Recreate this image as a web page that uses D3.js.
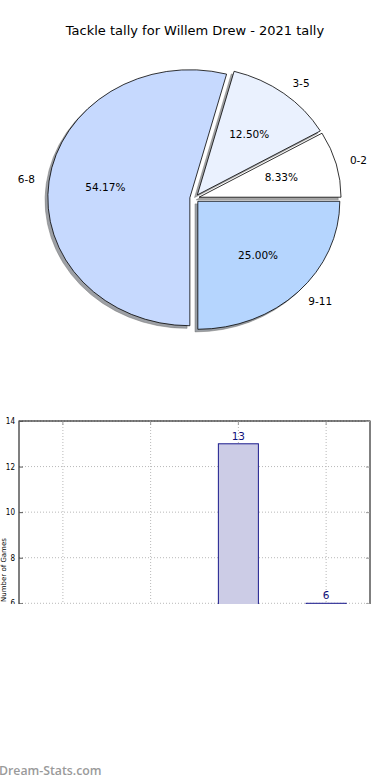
<html>
<meta charset="utf-8">
<head>
  <title>Tackle tally for Willem Drew - 2021 tally</title>
  <style>
    body, html { margin: 0; padding: 0; background: white; }
    svg text { font-family: 'DejaVu Sans', sans-serif; }
    .title { font-size: 13px; fill: #000; }
    .pie_label, .pct_label { font-size: 10.5px; fill: #000; }
    .y_axis text { font-size: 8px; font-stretch: condensed; fill: #000; }
    .y_axis path, .x_axis path { display: none; }
    .grid line { stroke: #b8b8b8; stroke-width: 1; stroke-dasharray: 1,2; }
    .bar_value { font-size: 10.5px; fill: #10107a; }
    .y_label { font-size: 7px; fill: #000; }
    .watermark { font-family: 'Open Sans', sans-serif; font-size: 12.3px; font-weight: 600; fill: #9a9a9a; }
  </style>
  <script src="https://d3js.org/d3.v7.min.js"></script>
</head>
<body>
<div id="chart"></div>
<script>
// data
var categories = ["0-2", "3-5", "6-8", "9-11"];
var tallies = [2, 3, 13, 6];
var wedge_colors = ["#ffffff", "#eaf1fe", "#c6d9fe", "#b5d5fe"];
var y_ticks = [0, 2, 4, 6, 8, 10, 12, 14];
var title_text = "Tackle tally for Willem Drew - 2021 tally";
var y_label_text = "Number of Games";

var width = 390, height = 780;

var svg = d3.select("#chart")
            .append("svg")
            .attr("width", width)
            .attr("height", height);

svg.append("text")
   .attr("class", "title")
   .attr("x", 195)
   .attr("y", 35)
   .attr("text-anchor", "middle")
   .text(title_text);

// ---- pie (elliptical, matplotlib style: starts at 3 o'clock, counter clockwise)
var pie_cx = 194.5, pie_cy = 198.3;
var rx = 142, ry = 128;
var explode = 0.033;
var total = d3.sum(tallies);
var color = d3.scaleOrdinal().domain(categories).range(wedge_colors);

var pie = d3.pie()
            .sort(null)
            .startAngle(Math.PI / 2)
            .endAngle(Math.PI / 2 - 2 * Math.PI);
var arcs = pie(tallies);
arcs.forEach(function(a, i) { a.cat = categories[i]; });

var arc = d3.arc().innerRadius(0).outerRadius(rx);

// d3 angle (clockwise from 12) -> math angle (ccw from 3 o'clock)
function mid_theta(a) {
  var m = (a.startAngle + a.endAngle) / 2;
  return Math.PI / 2 - m;
}
function offset(a, dist) {
  var t = mid_theta(a);
  return [pie_cx + explode * rx * Math.cos(t) + dist * rx * Math.cos(t),
          pie_cy - explode * ry * Math.sin(t) - dist * ry * Math.sin(t)];
}

var pie_g = svg.append("g").attr("class", "pie");

// shadows first
pie_g.selectAll(".shadow")
     .data(arcs)
     .enter()
     .append("path")
     .attr("class", "shadow")
     .attr("transform", function(d) {
       var o = offset(d, 0);
       return "translate(" + (o[0] - 2.8) + "," + (o[1] + 2.6) + ") scale(1," + (ry / rx) + ")";
     })
     .attr("d", arc)
     .attr("fill", function(d) {
       var c = d3.rgb(color(d.cat));
       return d3.rgb(c.r * 0.3, c.g * 0.3, c.b * 0.3);
     })
     .attr("fill-opacity", 0.5)
     .attr("stroke", "#777")
     .attr("stroke-opacity", 0.5)
     .attr("vector-effect", "non-scaling-stroke");

pie_g.selectAll(".wedge")
     .data(arcs)
     .enter()
     .append("path")
     .attr("class", "wedge")
     .attr("transform", function(d) {
       var o = offset(d, 0);
       return "translate(" + o[0] + "," + o[1] + ") scale(1," + (ry / rx) + ")";
     })
     .attr("d", arc)
     .attr("fill", function(d) { return color(d.cat); })
     .attr("stroke", "#000")
     .attr("stroke-width", 0.8)
     .attr("stroke-linejoin", "round")
     .attr("vector-effect", "non-scaling-stroke");

pie_g.selectAll(".pie_label")
     .data(arcs)
     .enter()
     .append("text")
     .attr("class", "pie_label")
     .attr("x", function(d) { return offset(d, 1.1)[0]; })
     .attr("y", function(d) { return offset(d, 1.1)[1]; })
     .attr("dy", "0.35em")
     .attr("text-anchor", function(d) { return Math.cos(mid_theta(d)) > 0 ? "start" : "end"; })
     .text(function(d) { return d.cat; });

pie_g.selectAll(".pct_label")
     .data(arcs)
     .enter()
     .append("text")
     .attr("class", "pct_label")
     .attr("x", function(d) { return offset(d, 0.6)[0]; })
     .attr("y", function(d) { return offset(d, 0.6)[1]; })
     .attr("dy", "0.35em")
     .attr("text-anchor", "middle")
     .text(function(d) { return (d.value / total * 100).toFixed(2) + "%"; });

// ---- bar chart (cut off at the bottom like the original)
var bx0 = 19, bx1 = 370, by_top = 421, by_bottom = 740;

svg.append("clipPath")
   .attr("id", "bar_clip")
   .append("rect")
   .attr("x", -5).attr("y", 400)
   .attr("width", 400).attr("height", 204);

var bar_g = svg.append("g").attr("clip-path", "url(#bar_clip)");

var x = d3.scaleBand().domain(categories).range([bx0, bx1]);
var y = d3.scaleLinear().domain([0, 14]).range([by_bottom, by_top]);
var bar_w = x.bandwidth() * 0.456;

// grid
var grid = bar_g.append("g").attr("class", "grid");

grid.selectAll("line.h")
    .data(y_ticks)
    .enter()
    .append("line")
    .attr("class", "h")
    .attr("x1", bx0).attr("x2", bx1)
    .attr("y1", function(d) { return y(d); })
    .attr("y2", function(d) { return y(d); });

grid.selectAll("line.v")
    .data(categories)
    .enter()
    .append("line")
    .attr("class", "v")
    .attr("x1", function(d) { return x(d) + x.bandwidth() / 2; })
    .attr("x2", function(d) { return x(d) + x.bandwidth() / 2; })
    .attr("y1", by_top).attr("y2", by_bottom);

bar_g.selectAll(".bar")
     .data(tallies)
     .enter()
     .append("rect")
     .attr("class", "bar")
     .attr("x", function(d, i) { return x(categories[i]) + (x.bandwidth() - bar_w) / 2; })
     .attr("width", bar_w)
     .attr("y", function(d) { return y(d); })
     .attr("height", function(d) { return y(0) - y(d); })
     .attr("fill", "#cccce6")
     .attr("stroke", "#1a1a8c")
     .attr("stroke-width", 1);

bar_g.selectAll(".bar_value")
     .data(tallies)
     .enter()
     .append("text")
     .attr("class", "bar_value")
     .attr("x", function(d, i) { return x(categories[i]) + x.bandwidth() / 2; })
     .attr("y", function(d) { return y(d) - 4; })
     .attr("text-anchor", "middle")
     .text(function(d) { return d; });

// frame
bar_g.append("rect")
     .attr("x", bx0).attr("y", by_top)
     .attr("width", bx1 - bx0).attr("height", by_bottom - by_top)
     .attr("fill", "none")
     .attr("stroke", "#000")
     .attr("stroke-width", 1);

// y axis, inward ticks on both sides
var y_axis = d3.axisLeft(y).tickValues(y_ticks).tickSize(-4).tickPadding(4);
bar_g.append("g")
     .attr("class", "y_axis")
     .attr("transform", "translate(" + bx0 + ",0)")
     .call(y_axis)
     .selectAll("line").attr("stroke", "#555");

bar_g.append("g")
     .attr("class", "y_axis")
     .attr("transform", "translate(" + bx1 + ",0)")
     .call(d3.axisRight(y).tickValues(y_ticks).tickSize(-4).tickFormat(""))
     .selectAll("line").attr("stroke", "#999");

bar_g.append("g")
     .attr("class", "x_axis")
     .attr("transform", "translate(0," + by_top + ")")
     .call(d3.axisTop(x).tickSize(-4).tickFormat(""))
     .selectAll("line").attr("stroke", "#999");

svg.append("text")
   .attr("class", "y_label")
   .attr("transform", "translate(6,570) rotate(-90)")
   .attr("text-anchor", "middle")
   .text(y_label_text);

svg.append("text")
   .attr("class", "watermark")
   .attr("x", -1)
   .attr("y", 775)
   .text("Dream-Stats.com");
</script>
</body>
</html>
